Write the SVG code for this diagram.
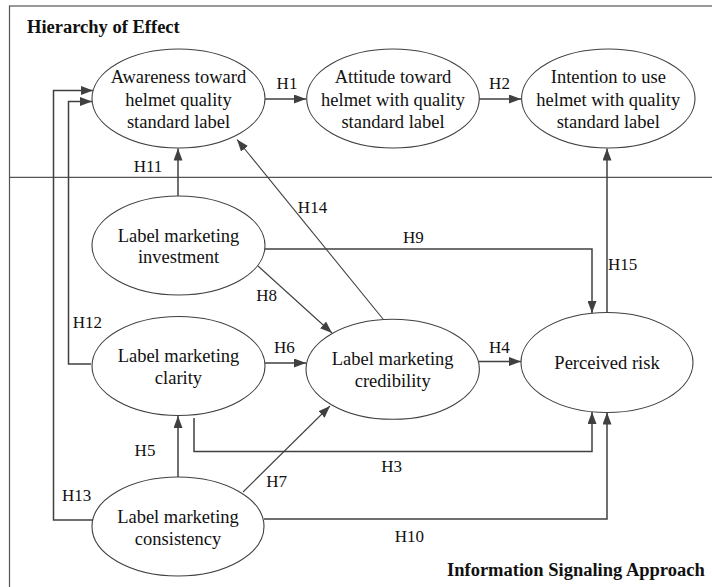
<svg xmlns="http://www.w3.org/2000/svg" width="712" height="587" viewBox="0 0 712 587">
<defs>
<marker id="arr" markerUnits="userSpaceOnUse" markerWidth="13" markerHeight="9" refX="12" refY="4.5" orient="auto">
<path d="M0,0 L12,4.5 L0,9 z" fill="#404040"/>
</marker>
<style>
.node ellipse{fill:#fff;stroke:#404040;stroke-width:1.1}
.node text{font-size:18.5px;fill:#111;text-anchor:middle}
.lbl{font-size:17px;fill:#111;text-anchor:middle}
.title{font-size:18.5px;font-weight:bold;fill:#111}
.c{fill:none;stroke:#404040;stroke-width:1.5}
.t{fill:none;stroke:#404040;stroke-width:1.1}
.frame{fill:none;stroke:#555;stroke-width:1.2}
</style>
</defs>
<rect width="712" height="587" fill="#fff"/>
<g font-family="'Liberation Serif', 'DejaVu Serif', serif">
<g id="frame">
<rect class="frame" x="9.5" y="6" width="720" height="600"/>
<line class="frame" x1="9.5" y1="177.3" x2="712" y2="177.3"/>
<text class="title" x="27" y="33.3">Hierarchy of Effect</text>
<text class="title" x="447" y="576">Information Signaling Approach</text>
</g>
<g id="connectors">
<line class="c" x1="265" y1="99" x2="306" y2="99" marker-end="url(#arr)"/>
<line class="c" x1="479" y1="99" x2="521" y2="99" marker-end="url(#arr)"/>
<line class="c" x1="178" y1="196" x2="178" y2="148.5" marker-end="url(#arr)"/>
<path class="c" d="M91,364 H68.5 V101.5 H92" marker-end="url(#arr)"/>
<path class="c" d="M93,520 H53.5 V90.5 H93" marker-end="url(#arr)"/>
<line class="t" x1="383" y1="319" x2="237" y2="139.5" marker-end="url(#arr)"/>
<path class="c" d="M265,249 H592 V313" marker-end="url(#arr)"/>
<line class="c" x1="607" y1="312.5" x2="607" y2="148.5" marker-end="url(#arr)"/>
<line class="t" x1="258" y1="266" x2="332" y2="333" marker-end="url(#arr)"/>
<line class="c" x1="265" y1="363" x2="306" y2="363" marker-end="url(#arr)"/>
<line class="c" x1="479" y1="361.5" x2="521" y2="361.5" marker-end="url(#arr)"/>
<path class="c" d="M194,418 V451.5 H592 V412" marker-end="url(#arr)"/>
<line class="c" x1="178" y1="477" x2="178" y2="416" marker-end="url(#arr)"/>
<line class="t" x1="243" y1="492" x2="330" y2="406" marker-end="url(#arr)"/>
<path class="c" d="M264,519 H607 V412.5" marker-end="url(#arr)"/>
<text class="lbl" x="287" y="88.5">H1</text>
<text class="lbl" x="499.5" y="88.5">H2</text>
<text class="lbl" x="148" y="171.5">H11</text>
<text class="lbl" x="312.5" y="212.7">H14</text>
<text class="lbl" x="413.3" y="242.7">H9</text>
<text class="lbl" x="622.7" y="270">H15</text>
<text class="lbl" x="266.7" y="300.7">H8</text>
<text class="lbl" x="87.3" y="328.3">H12</text>
<text class="lbl" x="284.3" y="353.3">H6</text>
<text class="lbl" x="499.3" y="353.3">H4</text>
<text class="lbl" x="145" y="455.7">H5</text>
<text class="lbl" x="391.7" y="472.3">H3</text>
<text class="lbl" x="276.7" y="486.7">H7</text>
<text class="lbl" x="76.7" y="500.7">H13</text>
<text class="lbl" x="409.3" y="542.3">H10</text>
</g>
<g id="awareness" class="node">
<ellipse cx="178.5" cy="98.5" rx="86.5" ry="49.5"/>
<text x="178.5" y="82.5">Awareness toward</text>
<text x="178.5" y="105.5">helmet quality</text>
<text x="178.5" y="128.3">standard label</text>
</g>
<g id="attitude" class="node">
<ellipse cx="393" cy="98.5" rx="86.3" ry="49.5"/>
<text x="393" y="82.5">Attitude toward</text>
<text x="393" y="105.5">helmet with quality</text>
<text x="393" y="128.3">standard label</text>
</g>
<g id="intention" class="node">
<ellipse cx="608.3" cy="98.5" rx="86.7" ry="49.5"/>
<text x="608.3" y="82.5">Intention to use</text>
<text x="608.3" y="105.5">helmet with quality</text>
<text x="608.3" y="128.3">standard label</text>
</g>
<g id="investment" class="node">
<ellipse cx="178.5" cy="245.5" rx="86.5" ry="49.5"/>
<text x="178.5" y="241.5">Label marketing</text>
<text x="178.5" y="263.3">investment</text>
</g>
<g id="clarity" class="node">
<ellipse cx="178.5" cy="366" rx="86.5" ry="49.5"/>
<text x="178.5" y="362">Label marketing</text>
<text x="178.5" y="384">clarity</text>
</g>
<g id="credibility" class="node">
<ellipse cx="392.7" cy="369.3" rx="86.7" ry="50"/>
<text x="392.7" y="365">Label marketing</text>
<text x="392.7" y="387">credibility</text>
</g>
<g id="risk" class="node">
<ellipse cx="607" cy="362.5" rx="86" ry="50"/>
<text x="607" y="368.5">Perceived risk</text>
</g>
<g id="consistency" class="node">
<ellipse cx="178" cy="526.5" rx="86" ry="49.5"/>
<text x="178" y="522.5">Label marketing</text>
<text x="178" y="544.5">consistency</text>
</g>
</g>
</svg>
